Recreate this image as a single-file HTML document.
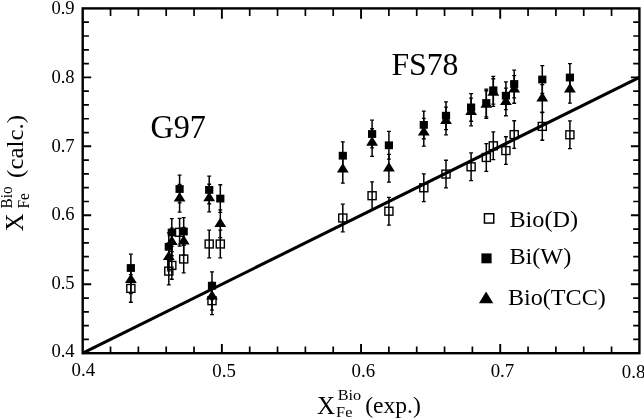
<!DOCTYPE html>
<html><head><meta charset="utf-8"><title>Fig</title>
<style>
html,body{margin:0;padding:0;background:#fff}
svg{display:block}
text{font-family:"Liberation Serif","Times New Roman",serif;fill:#000}
</style></head><body>
<svg width="644" height="419" viewBox="0 0 644 419">
<rect width="644" height="419" fill="#fff"/>
<g stroke="#000" fill="none">
<path d="M130.85 274.55V302.25" stroke-width="1.5"/><path d="M128.9 274.55H132.8M128.9 302.25H132.8" stroke-width="1.3"/>
<rect x="126.8" y="284.45" width="8.1" height="7.9" stroke-width="1.4"/>
<path d="M168.8 257.25V284.95" stroke-width="1.5"/><path d="M166.85 257.25H170.75M166.85 284.95H170.75" stroke-width="1.3"/>
<rect x="164.75" y="267.15" width="8.1" height="7.9" stroke-width="1.4"/>
<path d="M171.8 251.55V279.25" stroke-width="1.5"/><path d="M169.85 251.55H173.75M169.85 279.25H173.75" stroke-width="1.3"/>
<rect x="167.75" y="261.45" width="8.1" height="7.9" stroke-width="1.4"/>
<path d="M179.6 218.45V246.15" stroke-width="1.5"/><path d="M177.65 218.45H181.55M177.65 246.15H181.55" stroke-width="1.3"/>
<rect x="175.55" y="228.35" width="8.1" height="7.9" stroke-width="1.4"/>
<path d="M183.7 245.15V272.85" stroke-width="1.5"/><path d="M181.75 245.15H185.65M181.75 272.85H185.65" stroke-width="1.3"/>
<rect x="179.65" y="255.05" width="8.1" height="7.9" stroke-width="1.4"/>
<path d="M209.2 230.15V257.85" stroke-width="1.5"/><path d="M207.25 230.15H211.15M207.25 257.85H211.15" stroke-width="1.3"/>
<rect x="205.15" y="240.05" width="8.1" height="7.9" stroke-width="1.4"/>
<path d="M220.3 230.15V257.85" stroke-width="1.5"/><path d="M218.35 230.15H222.25M218.35 257.85H222.25" stroke-width="1.3"/>
<rect x="216.25" y="240.05" width="8.1" height="7.9" stroke-width="1.4"/>
<path d="M212 286.85V314.55" stroke-width="1.5"/><path d="M210.05 286.85H213.95M210.05 314.55H213.95" stroke-width="1.3"/>
<rect x="207.95" y="296.75" width="8.1" height="7.9" stroke-width="1.4"/>
<path d="M342.8 204.15V231.85" stroke-width="1.5"/><path d="M340.85 204.15H344.75M340.85 231.85H344.75" stroke-width="1.3"/>
<rect x="338.75" y="214.05" width="8.1" height="7.9" stroke-width="1.4"/>
<path d="M372.1 181.85V209.55" stroke-width="1.5"/><path d="M370.15 181.85H374.05M370.15 209.55H374.05" stroke-width="1.3"/>
<rect x="368.05" y="191.75" width="8.1" height="7.9" stroke-width="1.4"/>
<path d="M388.9 197.35V225.05" stroke-width="1.5"/><path d="M386.95 197.35H390.85M386.95 225.05H390.85" stroke-width="1.3"/>
<rect x="384.85" y="207.25" width="8.1" height="7.9" stroke-width="1.4"/>
<path d="M423.8 173.95V201.65" stroke-width="1.5"/><path d="M421.85 173.95H425.75M421.85 201.65H425.75" stroke-width="1.3"/>
<rect x="419.75" y="183.85" width="8.1" height="7.9" stroke-width="1.4"/>
<path d="M446 160.25V187.95" stroke-width="1.5"/><path d="M444.05 160.25H447.95M444.05 187.95H447.95" stroke-width="1.3"/>
<rect x="441.95" y="170.15" width="8.1" height="7.9" stroke-width="1.4"/>
<path d="M471.1 152.95V180.65" stroke-width="1.5"/><path d="M469.15 152.95H473.05M469.15 180.65H473.05" stroke-width="1.3"/>
<rect x="467.05" y="162.85" width="8.1" height="7.9" stroke-width="1.4"/>
<path d="M486.3 143.65V171.35" stroke-width="1.5"/><path d="M484.35 143.65H488.25M484.35 171.35H488.25" stroke-width="1.3"/>
<rect x="482.25" y="153.55" width="8.1" height="7.9" stroke-width="1.4"/>
<path d="M493.3 131.95V159.65" stroke-width="1.5"/><path d="M491.35 131.95H495.25M491.35 159.65H495.25" stroke-width="1.3"/>
<rect x="489.25" y="141.85" width="8.1" height="7.9" stroke-width="1.4"/>
<path d="M505.9 136.75V164.45" stroke-width="1.5"/><path d="M503.95 136.75H507.85M503.95 164.45H507.85" stroke-width="1.3"/>
<rect x="501.85" y="146.65" width="8.1" height="7.9" stroke-width="1.4"/>
<path d="M514.2 120.75V148.45" stroke-width="1.5"/><path d="M512.25 120.75H516.15M512.25 148.45H516.15" stroke-width="1.3"/>
<rect x="510.15" y="130.65" width="8.1" height="7.9" stroke-width="1.4"/>
<path d="M542.3 112.55V140.25" stroke-width="1.5"/><path d="M540.35 112.55H544.25M540.35 140.25H544.25" stroke-width="1.3"/>
<rect x="538.25" y="122.45" width="8.1" height="7.9" stroke-width="1.4"/>
<path d="M569.9 120.95V148.65" stroke-width="1.5"/><path d="M567.95 120.95H571.85M567.95 148.65H571.85" stroke-width="1.3"/>
<rect x="565.85" y="130.85" width="8.1" height="7.9" stroke-width="1.4"/>
</g>
<path d="M82.7 353.2L639.4 77.36" stroke="#000" stroke-width="3.05" fill="none"/>
<g stroke="#000" fill="#000">
<path d="M130.85 254.15V281.85" stroke-width="1.5"/><path d="M128.9 254.15H132.8M128.9 281.85H132.8" stroke-width="1.3"/>
<rect x="126.75" y="264.1" width="8.2" height="7.8" stroke="none"/>
<path d="M168.8 232.95V260.65" stroke-width="1.5"/><path d="M166.85 232.95H170.75M166.85 260.65H170.75" stroke-width="1.3"/>
<rect x="164.7" y="242.9" width="8.2" height="7.8" stroke="none"/>
<path d="M171.8 218.65V246.35" stroke-width="1.5"/><path d="M169.85 218.65H173.75M169.85 246.35H173.75" stroke-width="1.3"/>
<rect x="167.7" y="228.6" width="8.2" height="7.8" stroke="none"/>
<path d="M179.6 175.15V202.85" stroke-width="1.5"/><path d="M177.65 175.15H181.55M177.65 202.85H181.55" stroke-width="1.3"/>
<rect x="175.5" y="185.1" width="8.2" height="7.8" stroke="none"/>
<path d="M183.7 217.65V245.35" stroke-width="1.5"/><path d="M181.75 217.65H185.65M181.75 245.35H185.65" stroke-width="1.3"/>
<rect x="179.6" y="227.6" width="8.2" height="7.8" stroke="none"/>
<path d="M209.2 176.05V203.75" stroke-width="1.5"/><path d="M207.25 176.05H211.15M207.25 203.75H211.15" stroke-width="1.3"/>
<rect x="205.1" y="186" width="8.2" height="7.8" stroke="none"/>
<path d="M220.3 184.75V212.45" stroke-width="1.5"/><path d="M218.35 184.75H222.25M218.35 212.45H222.25" stroke-width="1.3"/>
<rect x="216.2" y="194.7" width="8.2" height="7.8" stroke="none"/>
<path d="M212 271.85V299.55" stroke-width="1.5"/><path d="M210.05 271.85H213.95M210.05 299.55H213.95" stroke-width="1.3"/>
<rect x="207.9" y="281.8" width="8.2" height="7.8" stroke="none"/>
<path d="M342.8 141.85V169.55" stroke-width="1.5"/><path d="M340.85 141.85H344.75M340.85 169.55H344.75" stroke-width="1.3"/>
<rect x="338.7" y="151.8" width="8.2" height="7.8" stroke="none"/>
<path d="M372.1 120.15V147.85" stroke-width="1.5"/><path d="M370.15 120.15H374.05M370.15 147.85H374.05" stroke-width="1.3"/>
<rect x="368" y="130.1" width="8.2" height="7.8" stroke="none"/>
<path d="M388.9 131.45V159.15" stroke-width="1.5"/><path d="M386.95 131.45H390.85M386.95 159.15H390.85" stroke-width="1.3"/>
<rect x="384.8" y="141.4" width="8.2" height="7.8" stroke="none"/>
<path d="M423.8 111.05V138.75" stroke-width="1.5"/><path d="M421.85 111.05H425.75M421.85 138.75H425.75" stroke-width="1.3"/>
<rect x="419.7" y="121" width="8.2" height="7.8" stroke="none"/>
<path d="M446 101.85V129.55" stroke-width="1.5"/><path d="M444.05 101.85H447.95M444.05 129.55H447.95" stroke-width="1.3"/>
<rect x="441.9" y="111.8" width="8.2" height="7.8" stroke="none"/>
<path d="M471.1 93.55V121.25" stroke-width="1.5"/><path d="M469.15 93.55H473.05M469.15 121.25H473.05" stroke-width="1.3"/>
<rect x="467" y="103.5" width="8.2" height="7.8" stroke="none"/>
<path d="M486.3 89.15V116.85" stroke-width="1.5"/><path d="M484.35 89.15H488.25M484.35 116.85H488.25" stroke-width="1.3"/>
<rect x="482.2" y="99.1" width="8.2" height="7.8" stroke="none"/>
<path d="M493.3 76.45V104.15" stroke-width="1.5"/><path d="M491.35 76.45H495.25M491.35 104.15H495.25" stroke-width="1.3"/>
<rect x="489.2" y="86.4" width="8.2" height="7.8" stroke="none"/>
<path d="M505.9 81.85V109.55" stroke-width="1.5"/><path d="M503.95 81.85H507.85M503.95 109.55H507.85" stroke-width="1.3"/>
<rect x="501.8" y="91.8" width="8.2" height="7.8" stroke="none"/>
<path d="M514.2 70.15V97.85" stroke-width="1.5"/><path d="M512.25 70.15H516.15M512.25 97.85H516.15" stroke-width="1.3"/>
<rect x="510.1" y="80.1" width="8.2" height="7.8" stroke="none"/>
<path d="M542.3 65.65V93.35" stroke-width="1.5"/><path d="M540.35 65.65H544.25M540.35 93.35H544.25" stroke-width="1.3"/>
<rect x="538.2" y="75.6" width="8.2" height="7.8" stroke="none"/>
<path d="M569.9 63.65V91.35" stroke-width="1.5"/><path d="M567.95 63.65H571.85M567.95 91.35H571.85" stroke-width="1.3"/>
<rect x="565.8" y="73.6" width="8.2" height="7.8" stroke="none"/>
<path d="M130.85 265.95V293.65" stroke-width="1.5"/><path d="M128.9 265.95H132.8M128.9 293.65H132.8" stroke-width="1.3"/>
<path d="M130.85 273.5L136.75 282.9H124.95Z" stroke="none"/>
<path d="M168.8 243.15V270.85" stroke-width="1.5"/><path d="M166.85 243.15H170.75M166.85 270.85H170.75" stroke-width="1.3"/>
<path d="M168.8 250.7L174.7 260.1H162.9Z" stroke="none"/>
<path d="M171.8 228.05V255.75" stroke-width="1.5"/><path d="M169.85 228.05H173.75M169.85 255.75H173.75" stroke-width="1.3"/>
<path d="M171.8 235.6L177.7 245H165.9Z" stroke="none"/>
<path d="M179.6 184.45V212.15" stroke-width="1.5"/><path d="M177.65 184.45H181.55M177.65 212.15H181.55" stroke-width="1.3"/>
<path d="M179.6 192L185.5 201.4H173.7Z" stroke="none"/>
<path d="M183.7 227.45V255.15" stroke-width="1.5"/><path d="M181.75 227.45H185.65M181.75 255.15H185.65" stroke-width="1.3"/>
<path d="M183.7 235L189.6 244.4H177.8Z" stroke="none"/>
<path d="M209.2 184.25V211.95" stroke-width="1.5"/><path d="M207.25 184.25H211.15M207.25 211.95H211.15" stroke-width="1.3"/>
<path d="M209.2 191.8L215.1 201.2H203.3Z" stroke="none"/>
<path d="M220.3 209.95V237.65" stroke-width="1.5"/><path d="M218.35 209.95H222.25M218.35 237.65H222.25" stroke-width="1.3"/>
<path d="M220.3 217.5L226.2 226.9H214.4Z" stroke="none"/>
<path d="M212 282.45V310.15" stroke-width="1.5"/><path d="M210.05 282.45H213.95M210.05 310.15H213.95" stroke-width="1.3"/>
<path d="M212 290L217.9 299.4H206.1Z" stroke="none"/>
<path d="M342.8 155.45V183.15" stroke-width="1.5"/><path d="M340.85 155.45H344.75M340.85 183.15H344.75" stroke-width="1.3"/>
<path d="M342.8 163L348.7 172.4H336.9Z" stroke="none"/>
<path d="M372.1 128.75V156.45" stroke-width="1.5"/><path d="M370.15 128.75H374.05M370.15 156.45H374.05" stroke-width="1.3"/>
<path d="M372.1 136.3L378 145.7H366.2Z" stroke="none"/>
<path d="M388.9 154.45V182.15" stroke-width="1.5"/><path d="M386.95 154.45H390.85M386.95 182.15H390.85" stroke-width="1.3"/>
<path d="M388.9 162L394.8 171.4H383Z" stroke="none"/>
<path d="M423.8 118.45V146.15" stroke-width="1.5"/><path d="M421.85 118.45H425.75M421.85 146.15H425.75" stroke-width="1.3"/>
<path d="M423.8 126L429.7 135.4H417.9Z" stroke="none"/>
<path d="M446 107.15V134.85" stroke-width="1.5"/><path d="M444.05 107.15H447.95M444.05 134.85H447.95" stroke-width="1.3"/>
<path d="M446 114.7L451.9 124.1H440.1Z" stroke="none"/>
<path d="M471.1 98.15V125.85" stroke-width="1.5"/><path d="M469.15 98.15H473.05M469.15 125.85H473.05" stroke-width="1.3"/>
<path d="M471.1 105.7L477 115.1H465.2Z" stroke="none"/>
<path d="M486.3 90.75V118.45" stroke-width="1.5"/><path d="M484.35 90.75H488.25M484.35 118.45H488.25" stroke-width="1.3"/>
<path d="M486.3 98.3L492.2 107.7H480.4Z" stroke="none"/>
<path d="M493.3 78.75V106.45" stroke-width="1.5"/><path d="M491.35 78.75H495.25M491.35 106.45H495.25" stroke-width="1.3"/>
<path d="M493.3 86.3L499.2 95.7H487.4Z" stroke="none"/>
<path d="M505.9 88.05V115.75" stroke-width="1.5"/><path d="M503.95 88.05H507.85M503.95 115.75H507.85" stroke-width="1.3"/>
<path d="M505.9 95.6L511.8 105H500Z" stroke="none"/>
<path d="M514.2 75.55V103.25" stroke-width="1.5"/><path d="M512.25 75.55H516.15M512.25 103.25H516.15" stroke-width="1.3"/>
<path d="M514.2 83.1L520.1 92.5H508.3Z" stroke="none"/>
<path d="M542.3 84.55V112.25" stroke-width="1.5"/><path d="M540.35 84.55H544.25M540.35 112.25H544.25" stroke-width="1.3"/>
<path d="M542.3 92.1L548.2 101.5H536.4Z" stroke="none"/>
<path d="M569.9 75.45V103.15" stroke-width="1.5"/><path d="M567.95 75.45H571.85M567.95 103.15H571.85" stroke-width="1.3"/>
<path d="M569.9 83L575.8 92.4H564Z" stroke="none"/>
</g>
<rect x="82.7" y="8.4" width="556.7" height="344.8" fill="none" stroke="#000" stroke-width="2.4"/>
<g stroke="#000" fill="none"><path d="M110.53 353.2v-6.7M110.53 8.4v7.6" stroke-width="1.7"/><path d="M138.37 353.2v-6.7M138.37 8.4v7.6" stroke-width="1.7"/><path d="M166.2 353.2v-6.7M166.2 8.4v7.6" stroke-width="1.7"/><path d="M194.04 353.2v-6.7M194.04 8.4v7.6" stroke-width="1.7"/><path d="M221.88 353.2v-9.2M221.88 8.4v10.3" stroke-width="1.9"/><path d="M249.71 353.2v-6.7M249.71 8.4v7.6" stroke-width="1.7"/><path d="M277.54 353.2v-6.7M277.54 8.4v7.6" stroke-width="1.7"/><path d="M305.38 353.2v-6.7M305.38 8.4v7.6" stroke-width="1.7"/><path d="M333.21 353.2v-6.7M333.21 8.4v7.6" stroke-width="1.7"/><path d="M361.05 353.2v-9.2M361.05 8.4v10.3" stroke-width="1.9"/><path d="M388.88 353.2v-6.7M388.88 8.4v7.6" stroke-width="1.7"/><path d="M416.72 353.2v-6.7M416.72 8.4v7.6" stroke-width="1.7"/><path d="M444.55 353.2v-6.7M444.55 8.4v7.6" stroke-width="1.7"/><path d="M472.39 353.2v-6.7M472.39 8.4v7.6" stroke-width="1.7"/><path d="M500.22 353.2v-9.2M500.22 8.4v10.3" stroke-width="1.9"/><path d="M528.06 353.2v-6.7M528.06 8.4v7.6" stroke-width="1.7"/><path d="M555.89 353.2v-6.7M555.89 8.4v7.6" stroke-width="1.7"/><path d="M583.73 353.2v-6.7M583.73 8.4v7.6" stroke-width="1.7"/><path d="M611.56 353.2v-6.7M611.56 8.4v7.6" stroke-width="1.7"/><path d="M82.7 339.41h6.2M639.4 339.41h-6.2" stroke-width="1.7"/><path d="M82.7 325.62h6.2M639.4 325.62h-6.2" stroke-width="1.7"/><path d="M82.7 311.82h6.2M639.4 311.82h-6.2" stroke-width="1.7"/><path d="M82.7 298.03h6.2M639.4 298.03h-6.2" stroke-width="1.7"/><path d="M82.7 284.24h8.5M639.4 284.24h-8.5" stroke-width="1.9"/><path d="M82.7 270.45h6.2M639.4 270.45h-6.2" stroke-width="1.7"/><path d="M82.7 256.66h6.2M639.4 256.66h-6.2" stroke-width="1.7"/><path d="M82.7 242.86h6.2M639.4 242.86h-6.2" stroke-width="1.7"/><path d="M82.7 229.07h6.2M639.4 229.07h-6.2" stroke-width="1.7"/><path d="M82.7 215.28h8.5M639.4 215.28h-8.5" stroke-width="1.9"/><path d="M82.7 201.49h6.2M639.4 201.49h-6.2" stroke-width="1.7"/><path d="M82.7 187.7h6.2M639.4 187.7h-6.2" stroke-width="1.7"/><path d="M82.7 173.9h6.2M639.4 173.9h-6.2" stroke-width="1.7"/><path d="M82.7 160.11h6.2M639.4 160.11h-6.2" stroke-width="1.7"/><path d="M82.7 146.32h8.5M639.4 146.32h-8.5" stroke-width="1.9"/><path d="M82.7 132.53h6.2M639.4 132.53h-6.2" stroke-width="1.7"/><path d="M82.7 118.74h6.2M639.4 118.74h-6.2" stroke-width="1.7"/><path d="M82.7 104.94h6.2M639.4 104.94h-6.2" stroke-width="1.7"/><path d="M82.7 91.15h6.2M639.4 91.15h-6.2" stroke-width="1.7"/><path d="M82.7 77.36h8.5M639.4 77.36h-8.5" stroke-width="1.9"/><path d="M82.7 63.57h6.2M639.4 63.57h-6.2" stroke-width="1.7"/><path d="M82.7 49.78h6.2M639.4 49.78h-6.2" stroke-width="1.7"/><path d="M82.7 35.98h6.2M639.4 35.98h-6.2" stroke-width="1.7"/><path d="M82.7 22.19h6.2M639.4 22.19h-6.2" stroke-width="1.7"/></g>
<text transform="translate(71.6 376) scale(1.05 1.0)" font-size="17.95">0.4</text>
<text transform="translate(212.3 377.2) scale(1.05 1.0)" font-size="17.95">0.5</text>
<text transform="translate(351.5 377.3) scale(1.05 1.0)" font-size="17.95">0.6</text>
<text transform="translate(490.7 377.4) scale(1.05 1.0)" font-size="17.95">0.7</text>
<text transform="translate(621.8 378.3) scale(1.05 1.0)" font-size="17.95">0.8</text>
<text transform="translate(51.4 357) scale(1.0 1.0)" font-size="18.6">0.4</text>
<text transform="translate(51.4 289) scale(1.0 1.0)" font-size="18.6">0.5</text>
<text transform="translate(51.4 220.3) scale(1.0 1.0)" font-size="18.6">0.6</text>
<text transform="translate(51.4 151.8) scale(1.0 1.0)" font-size="18.6">0.7</text>
<text transform="translate(51.4 83) scale(1.0 1.0)" font-size="18.6">0.8</text>
<text transform="translate(51.4 13.7) scale(1.0 1.0)" font-size="18.6">0.9</text>
<text transform="translate(150.4 138.3) scale(0.93 1.0)" font-size="34.6">G97</text>
<text transform="translate(391.4 75.4) scale(0.98 1.0)" font-size="32.4">FS78</text>
<text transform="translate(509.4 227.2) scale(1.032 1.0)" font-size="23.5">Bio(D)</text>
<text transform="translate(509.4 264) scale(1.032 1.0)" font-size="23.5">Bi(W)</text>
<text transform="translate(508 304.7) scale(1.027 1.0)" font-size="23.5">Bio(TCC)</text>
<text transform="translate(316.9 413.5) scale(1.03 1.0)" font-size="24.3">X</text>
<text transform="translate(337.7 399.9) scale(1.16 1.0)" font-size="14.0">Bio</text>
<text transform="translate(336.1 417.4) scale(1.13 1.0)" font-size="14.4">Fe</text>
<text transform="translate(365.2 413.4) scale(1.0 1.0)" font-size="23.6">(exp.)</text>
<!-- legend -->
<rect x="484.45" y="213.75" width="9.3" height="9.3" fill="none" stroke="#000" stroke-width="1.5"/>
<rect x="481.4" y="253.4" width="10.2" height="9.9" fill="#000"/>
<path d="M486.1 291.6L493.3 303.3H478.9Z" fill="#000"/>
<g transform="translate(22.6 230.6) rotate(-90)"><text transform="translate(-0.6 0) scale(1.0 1.0)" font-size="24.5">X</text><text transform="translate(22.2 -10.9) scale(1.0 1.1)" font-size="15.2">Bio</text><text transform="translate(22.2 6.8) scale(1.0 1.03)" font-size="15.2">Fe</text><text transform="translate(52.7 0) scale(1.084 1.0)" font-size="23.0">(calc.)</text></g>
</svg>
</body></html>
